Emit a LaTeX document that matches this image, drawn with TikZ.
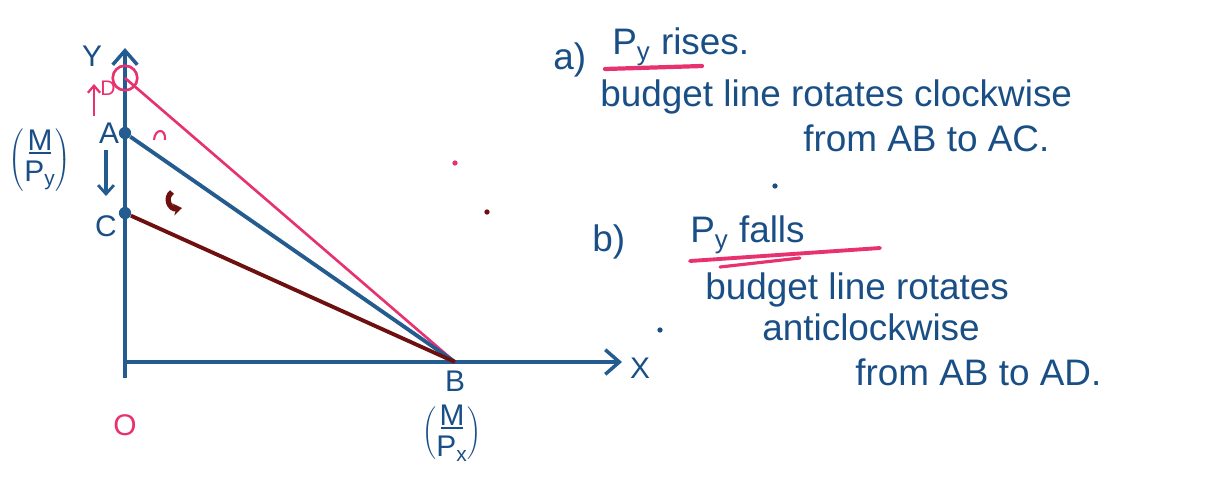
\documentclass[tikz,border=0pt]{standalone}
\usepackage{fontspec}
\setmainfont{Liberation Sans}
\usetikzlibrary{arrows.meta}
\definecolor{ink}{HTML}{1A4F86}
\definecolor{axisblue}{HTML}{255C8F}
\definecolor{pinkc}{HTML}{E8316F}
\definecolor{darkred}{HTML}{6E1010}
\begin{document}
\begin{tikzpicture}[x=0.02cm,y=-0.02cm,
  hand/.style={text=ink,font=\fontsize{21}{25}\selectfont,inner sep=0pt,anchor=west},
  lbl/.style={text=ink,font=\fontsize{17}{20}\selectfont,inner sep=0pt},
  frac/.style={text=ink,font=\fontsize{17}{19}\selectfont,inner sep=0pt},
  axisline/.style={draw=axisblue,line width=2.2pt,-{Straight Barb[length=8pt,width=14pt,line width=2pt]}},
  budget/.style={line width=2.2pt},
  pt/.style={circle,fill=axisblue,inner sep=0pt,minimum size=7pt},
  speck/.style={circle,inner sep=0pt,minimum size=3pt}]
\useasboundingbox (0,0) rectangle (1217,478);
% axes
\coordinate (O) at (125,362);
\coordinate (Ytop) at (125,48);
\coordinate (Xend) at (622,362);
\draw[axisline] (125,378) -- (Ytop);
\draw[axisline] (O) -- (Xend);
\node[lbl] (ylab) at (92,56) {Y};
\node[lbl] (xlab) at (640,368) {X};
\node[text=pinkc,font=\fontsize{17}{20}\selectfont] (olab) at (125,425) {O};
% points
\coordinate (D) at (125,78);
\node[pt] (A) at (125,133) {};
\node[pt] (C) at (125,213) {};
\coordinate (B) at (455,362);
\node[circle,draw=pinkc,line width=1.5pt,minimum size=14pt,inner sep=0pt] (Dc) at (D) {};
% budget lines
\draw[budget,pinkc,line width=1.5pt] (D) -- (B);
\draw[budget,axisblue] (A) -- (B);
\draw[budget,darkred] (C) -- (B);
% labels
\node[lbl] (Alab) at (109,133) {A};
\node[lbl] (Clab) at (106,226) {C};
\node[lbl] (Blab) at (455,381) {B};
\node[text=pinkc,font=\fontsize{12}{14}\selectfont,inner sep=0pt] (Dlab) at (108,88) {D};
\coordinate (pu1) at (94,116);
\coordinate (pu2) at (94,84);
\draw[pinkc,line width=1.3pt,-{Straight Barb[length=4pt,width=7pt]}] (pu1) -- (pu2);
\coordinate (dn1) at (106,150);
\coordinate (dn2) at (106,196);
\draw[axisblue,line width=2pt,-{Straight Barb[length=5pt,width=9pt,line width=1.6pt]}] (dn1) -- (dn2);
% rotation marks
\coordinate (r1a) at (154,140);
\coordinate (r1b) at (165,140);
\draw[pinkc,line width=1.2pt] (r1a) .. controls (155,128) and (166,128) .. (r1b);
\coordinate (r2a) at (172,192);
\coordinate (r2b) at (182,208);
\draw[darkred,line width=3pt,-{Stealth[length=5pt,width=7pt]}] (r2a) .. controls (164,198) and (170,210) .. (r2b);
% fractions
\node[frac] (mpy) at (40,160) {$\left(\vcenter{\hbox{\shortstack{M\\[-2pt]\rule{12pt}{1pt}\\[1pt]P\textsubscript{y}}}}\right)$};
\node[frac] (mpx) at (452,433) {$\left(\vcenter{\hbox{\shortstack{M\\[-2pt]\rule{12pt}{1pt}\\[1pt]P\textsubscript{x}}}}\right)$};
% stray specks
\node[speck,fill=pinkc] (s1) at (455,163) {};
\node[speck,fill=darkred] (s2) at (487,212) {};
\node[speck,fill=ink] (s3) at (775,186) {};
\node[speck,fill=ink] (s4) at (660,330) {};
% right text a)
\node[hand] (a) at (553,60) {a)};
\node[hand] (apy) at (612,47) {P\textsubscript{y} rises.};
\coordinate (ua1) at (605,69);
\coordinate (ua2) at (702,66);
\draw[pinkc,line width=2.4pt,line cap=round] (ua1) -- (ua2);
\node[hand] (a1) at (600,97) {budget line rotates clockwise};
\node[hand] (a2) at (803,138) {from AB to AC.};
% right text b)
\node[hand] (b) at (592,242) {b)};
\node[hand] (bpy) at (690,235) {P\textsubscript{y} falls};
\coordinate (ub1) at (690,261);
\coordinate (ub2) at (880,248);
\coordinate (ub3) at (720,267);
\coordinate (ub4) at (800,258);
\draw[pinkc,line width=2.2pt,line cap=round] (ub1) -- (ub2);
\draw[pinkc,line width=1.8pt,line cap=round] (ub3) -- (ub4);
\node[hand] (b1) at (705,290) {budget line rotates};
\node[hand] (b2) at (762,327) {anticlockwise};
\node[hand] (b3) at (855,372) {from AB to AD.};
\end{tikzpicture}
\end{document}
